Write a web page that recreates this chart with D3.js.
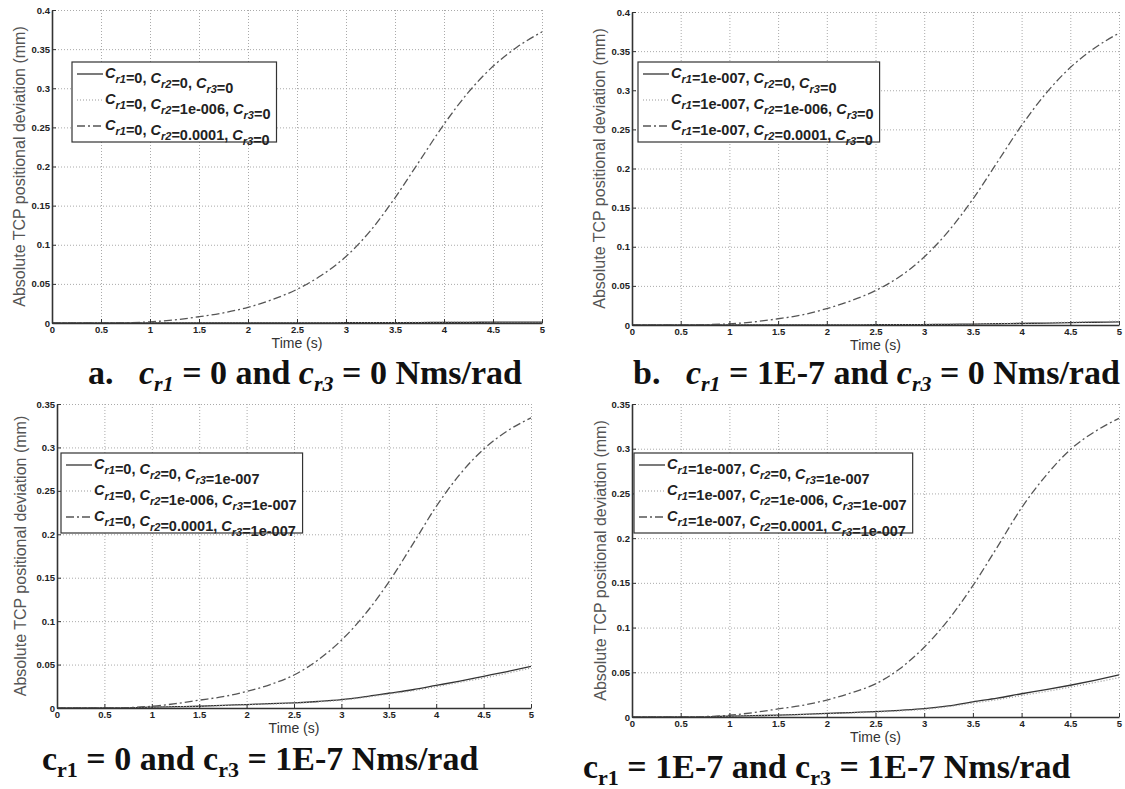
<!DOCTYPE html>
<html>
<head>
<meta charset="utf-8">
<script src="https://cdn.jsdelivr.net/npm/d3@7"></script>
<style>
    body { margin: 0; background: #fff; }
    svg { display: block; }
    .axis text { font-family: Arial, "Liberation Sans", sans-serif; font-weight: bold; font-size: 9.5px; fill: #222; }
    .axis path, .axis line { stroke: #333; }
    .grid line { stroke: #aaa; stroke-dasharray: 1,2; }
    .grid path { display: none; }
</style>
</head>
<body>
<svg id="fig" width="1125" height="789"></svg>
<script>
// time samples (s)
const timeS = [0, 0.25, 0.5, 0.75, 1, 1.25, 1.5, 1.75, 2, 2.25, 2.5, 2.75, 3, 3.25, 3.5, 3.75, 4, 4.25, 4.5, 4.75, 5];
const xTicks = [0, 0.5, 1, 1.5, 2, 2.5, 3, 3.5, 4, 4.5, 5];
const yTicks04 = [0, 0.05, 0.1, 0.15, 0.2, 0.25, 0.3, 0.35, 0.4];
const yTicks035 = [0, 0.05, 0.1, 0.15, 0.2, 0.25, 0.3, 0.35];

// panel a: cr1 = 0, cr3 = 0
const aSolid   = [0,0,0,0,0,0,0,0,0,0,0.0001,0.0002,0.0003,0.0004,0.0005,0.0006,0.0008,0.0009,0.001,0.0011,0.0012];
const aDotted  = [0,0,0,0,0,0,0,0,0,0,0.0001,0.0002,0.0003,0.0005,0.0006,0.0008,0.001,0.0011,0.0013,0.0014,0.0015];
const aDashDot = [0,0,0,0.0004,0.0015,0.004,0.008,0.013,0.02,0.03,0.043,0.061,0.085,0.118,0.16,0.207,0.254,0.295,0.328,0.353,0.372];

// panel b: cr1 = 1e-7, cr3 = 0
const bSolid   = [0,0,0,0,0,0,0,0,0.0001,0.0002,0.0003,0.0004,0.0006,0.0009,0.0012,0.0016,0.002,0.0025,0.003,0.0035,0.004];
const bDotted  = [0,0,0,0,0,0,0,0,0.0001,0.0002,0.0003,0.0005,0.0007,0.001,0.0014,0.0019,0.0024,0.003,0.0036,0.0042,0.0048];
const bDashDot = [0,0,0,0.0004,0.0015,0.004,0.008,0.013,0.021,0.031,0.044,0.062,0.087,0.12,0.161,0.208,0.255,0.296,0.329,0.354,0.373];

// panel c: cr1 = 0, cr3 = 1e-7
const cSolid   = [0,0,0,0.0002,0.001,0.0015,0.002,0.003,0.004,0.005,0.006,0.0075,0.0096,0.013,0.017,0.021,0.026,0.031,0.0365,0.042,0.048];
const cDotted  = [0,0,0,0.0002,0.0009,0.0014,0.0019,0.0028,0.0037,0.0046,0.0056,0.007,0.009,0.0122,0.016,0.0198,0.0245,0.0295,0.0345,0.04,0.046];
const cDashDot = [0,0,0,0.0005,0.002,0.005,0.009,0.013,0.019,0.027,0.038,0.055,0.078,0.108,0.145,0.188,0.232,0.269,0.298,0.319,0.334];

// panel d: cr1 = 1e-7, cr3 = 1e-7
const dSolid   = [0,0,0,0.0002,0.001,0.0015,0.002,0.003,0.004,0.005,0.006,0.0075,0.0093,0.0125,0.017,0.021,0.026,0.0305,0.0355,0.041,0.047];
const dDotted  = [0,0,0,0.0002,0.0009,0.0014,0.0019,0.0027,0.0036,0.0045,0.0055,0.0068,0.0086,0.0116,0.0155,0.0193,0.024,0.0285,0.0333,0.0385,0.044];
const dDashDot = [0,0,0,0.0005,0.002,0.005,0.009,0.013,0.019,0.027,0.037,0.054,0.078,0.109,0.147,0.19,0.234,0.27,0.299,0.319,0.334];

const legendA = ["C_r1=0, C_r2=0, C_r3=0", "C_r1=0, C_r2=1e-006, C_r3=0", "C_r1=0, C_r2=0.0001, C_r3=0"];
const legendB = ["C_r1=1e-007, C_r2=0, C_r3=0", "C_r1=1e-007, C_r2=1e-006, C_r3=0", "C_r1=1e-007, C_r2=0.0001, C_r3=0"];
const legendC = ["C_r1=0, C_r2=0, C_r3=1e-007", "C_r1=0, C_r2=1e-006, C_r3=1e-007", "C_r1=0, C_r2=0.0001, C_r3=1e-007"];
const legendD = ["C_r1=1e-007, C_r2=0, C_r3=1e-007", "C_r1=1e-007, C_r2=1e-006, C_r3=1e-007", "C_r1=1e-007, C_r2=0.0001, C_r3=1e-007"];

const yLabel = "Absolute TCP positional deviation (mm)";
const xLabel = "Time (s)";

// line styles for the three series (solid, dotted, dash-dot)
const styles = [
    { stroke: "#333", dash: null, width: 1.3 },
    { stroke: "#999", dash: "1,2", width: 1.2 },
    { stroke: "#555", dash: "8,3,2,3", width: 1.3 }
];

// captions: segments, i = italic, sub = subscript
const captions = {
    a: [{ t: "a.   " }, { t: "c", i: 1 }, { t: "r1", i: 1, sub: 1 }, { t: " = 0 and " }, { t: "c", i: 1 }, { t: "r3", i: 1, sub: 1 }, { t: " = 0 Nms/rad" }],
    b: [{ t: "b.   " }, { t: "c", i: 1 }, { t: "r1", i: 1, sub: 1 }, { t: " = 1E-7 and " }, { t: "c", i: 1 }, { t: "r3", i: 1, sub: 1 }, { t: " = 0 Nms/rad" }],
    c: [{ t: "c" }, { t: "r1", sub: 1 }, { t: " = 0 and c" }, { t: "r3", sub: 1 }, { t: " = 1E-7 Nms/rad" }],
    d: [{ t: "c" }, { t: "r1", sub: 1 }, { t: " = 1E-7 and c" }, { t: "r3", sub: 1 }, { t: " = 1E-7 Nms/rad" }]
};

const panels = [
    { x0: 52, x1: 542, yTop: 10, y0: 323, yMax: 0.4, yTicks: yTicks04, series: [aSolid, aDotted, aDashDot], legend: legendA, lx: 72, ly: 62, ylx: 19, cap: captions.a, cx: 88, cy: 384 },
    { x0: 632, x1: 1119, yTop: 12, y0: 325, yMax: 0.4, yTicks: yTicks04, series: [bSolid, bDotted, bDashDot], legend: legendB, lx: 638, ly: 62, ylx: 599, cap: captions.b, cx: 633, cy: 384 },
    { x0: 57, x1: 531, yTop: 404, y0: 708, yMax: 0.35, yTicks: yTicks035, series: [cSolid, cDotted, cDashDot], legend: legendC, lx: 61, ly: 453, ylx: 20, cap: captions.c, cx: 42, cy: 770 },
    { x0: 632, x1: 1119, yTop: 404, y0: 717, yMax: 0.35, yTicks: yTicks035, series: [dSolid, dDotted, dDashDot], legend: legendD, lx: 634, ly: 453, ylx: 600, cap: captions.d, cx: 583, cy: 778 }
];

const svg = d3.select("#fig");

function addLegendText(sel, label) {
    // "C_r1" -> italic C with subscript r1, rest upright bold
    const parts = label.split(/(C_r\d)/).filter(s => s.length);
    parts.forEach(p => {
        const m = p.match(/^C_(r\d)$/);
        if (m) {
            sel.append("tspan").attr("font-style", "italic").text("C");
            sel.append("tspan").attr("font-style", "italic").attr("dy", 5).attr("font-size", 11).text(m[1]);
            sel.append("tspan").attr("dy", -5).text("");
        } else {
            sel.append("tspan").text(p);
        }
    });
}

panels.forEach(p => {
    const x = d3.scaleLinear().domain([0, 5]).range([p.x0, p.x1]);
    const y = d3.scaleLinear().domain([0, p.yMax]).range([p.y0, p.yTop]);
    const g = svg.append("g");

    // grid
    g.append("g").attr("class", "grid")
        .attr("transform", `translate(0,${p.y0})`)
        .call(d3.axisBottom(x).tickValues(xTicks).tickSize(-(p.y0 - p.yTop)).tickFormat(""));
    g.append("g").attr("class", "grid")
        .attr("transform", `translate(${p.x0},0)`)
        .call(d3.axisLeft(y).tickValues(p.yTicks).tickSize(-(p.x1 - p.x0)).tickFormat(""));

    // series
    const line = d3.line()
        .x((d, i) => x(timeS[i]))
        .y(d => y(d))
        .curve(d3.curveMonotoneX);
    p.series.forEach((vals, k) => {
        const st = styles[k];
        g.append("path")
            .attr("d", line(vals))
            .attr("fill", "none")
            .attr("stroke", st.stroke)
            .attr("stroke-width", st.width)
            .attr("stroke-dasharray", st.dash);
    });

    // axes (ticks inward, MATLAB style)
    g.append("g").attr("class", "axis")
        .attr("transform", `translate(0,${p.y0})`)
        .call(d3.axisBottom(x).tickValues(xTicks).tickSizeInner(-4).tickSizeOuter(0).tickPadding(3).tickFormat(d3.format("~g")))
        .select(".domain").attr("stroke-width", 1.6);
    g.append("g").attr("class", "axis")
        .attr("transform", `translate(${p.x0},0)`)
        .call(d3.axisLeft(y).tickValues(p.yTicks).tickSizeInner(-4).tickSizeOuter(0).tickPadding(2).tickFormat(d3.format("~g")))
        .select(".domain").attr("stroke-width", 1.6);

    // axis labels
    g.append("text")
        .attr("x", (p.x0 + p.x1) / 2).attr("y", p.y0 + 25)
        .attr("text-anchor", "middle")
        .attr("font-family", "Arial, 'Liberation Sans', sans-serif")
        .attr("font-size", 14).attr("fill", "#333")
        .text(xLabel);
    g.append("text")
        .attr("transform", `translate(${p.ylx},${(p.y0 + p.yTop) / 2}) rotate(-90)`)
        .attr("text-anchor", "middle").attr("dy", "0.35em")
        .attr("font-family", "Arial, 'Liberation Sans', sans-serif")
        .attr("font-size", 16).attr("fill", "#555")
        .text(yLabel);

    // legend
    const lg = g.append("g").attr("transform", `translate(${p.lx},${p.ly})`);
    const box = lg.append("rect").attr("fill", "#fff").attr("stroke", "#333").attr("stroke-width", 1.2);
    let maxW = 0;
    p.legend.forEach((lab, k) => {
        const ry = 12 + k * 26;
        const st = styles[k];
        lg.append("line")
            .attr("x1", 5).attr("x2", 31).attr("y1", ry).attr("y2", ry)
            .attr("stroke", st.stroke).attr("stroke-width", st.width)
            .attr("stroke-dasharray", st.dash);
        const t = lg.append("text")
            .attr("x", 33).attr("y", ry + 4)
            .attr("font-family", "Arial, 'Liberation Sans', sans-serif")
            .attr("font-weight", "bold")
            .attr("font-size", 14.5).attr("fill", "#222");
        addLegendText(t, lab);
        maxW = Math.max(maxW, t.node().getComputedTextLength());
    });
    box.attr("width", 33 + maxW + 6).attr("height", 80);

    // caption
    const ct = svg.append("text")
        .attr("x", p.cx).attr("y", p.cy)
        .attr("font-family", "'Times New Roman', 'Liberation Serif', serif")
        .attr("font-weight", "bold").attr("font-size", 34).attr("fill", "#111")
        .style("white-space", "pre");
    let down = false;
    p.cap.forEach(s => {
        const ts = ct.append("tspan").text(s.t);
        if (s.i) ts.attr("font-style", "italic");
        if (s.sub && !down) { ts.attr("dy", 7).attr("font-size", 22); down = true; }
        else if (!s.sub && down) { ts.attr("dy", -7); down = false; }
        else if (s.sub) ts.attr("font-size", 22);
    });
});
</script>
</body>
</html>
